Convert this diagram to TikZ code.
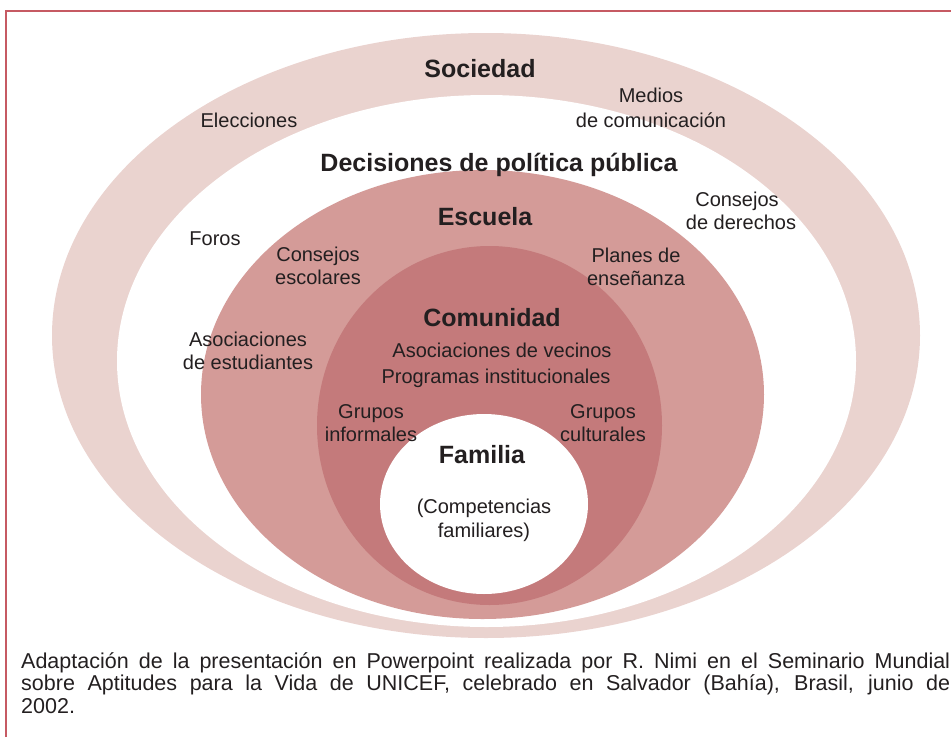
\documentclass[tikz,border=0pt]{standalone}
\usepackage{fontspec}
\setmainfont{Liberation Sans}
\definecolor{ringc}{HTML}{EAD3CF}
\definecolor{escuelac}{HTML}{D49B98}
\definecolor{comunidadc}{HTML}{C47A7B}
\definecolor{ink}{HTML}{231F20}
\definecolor{framec}{HTML}{C65A63}
\tikzset{
  lbl/.style={anchor=base, inner sep=0pt, text=ink, font=\fontsize{20}{24}\selectfont},
  head/.style={anchor=base, inner sep=0pt, text=ink, font=\fontsize{25}{30}\selectfont\bfseries},
  captionline/.style={anchor=base west, inner sep=0pt, text=ink, font=\fontsize{21.5}{24}\selectfont}
}
\begin{document}
\begin{tikzpicture}[x=1pt,y=-1pt]
\useasboundingbox (0,0) rectangle (951,737);
% frame
\draw[framec, line width=1.3pt] (6,737) -- (6,11) -- (951,11);
% ellipses
\fill[ringc] (486,335.5) ellipse [x radius=434pt, y radius=302.5pt];
\fill[white] (486.5,361) ellipse [x radius=369.5pt, y radius=266pt];
\fill[escuelac] (482.5,394.5) ellipse [x radius=281.5pt, y radius=224.5pt];
\fill[comunidadc] (489.5,425.5) ellipse [x radius=172.5pt, y radius=179.5pt];
\fill[white] (484,504) ellipse [x radius=104pt, y radius=90pt];
% Sociedad
\node[head] (sociedad) at (480,77) {Sociedad};
\node[lbl] (elecciones) at (249,127) {Elecciones};
\node[lbl] (medios1) at (651,102) {Medios};
\node[lbl] (medios2) at (651,127) {de comunicación};
\node[head] (decisiones) at (499,171) {Decisiones de política pública};
\node[lbl] (consejosd1) at (737,206) {Consejos};
\node[lbl] (consejosd2) at (741,229) {de derechos};
\node[lbl] (foros) at (215,245) {Foros};
% Escuela
\node[head] (escuela) at (485,225) {Escuela};
\node[lbl] (consejose1) at (318,261) {Consejos};
\node[lbl] (consejose2) at (318,284) {escolares};
\node[lbl] (planes1) at (636,262) {Planes de};
\node[lbl] (planes2) at (636,285) {enseñanza};
\node[lbl] (asoc1) at (248,346) {Asociaciones};
\node[lbl] (asoc2) at (248,369) {de estudiantes};
% Comunidad
\node[head] (comunidad) at (492,326) {Comunidad};
\node[lbl] (vecinos) at (502,357) {Asociaciones de vecinos};
\node[lbl] (programas) at (496,383) {Programas institucionales};
\node[lbl] (grupi1) at (371,418) {Grupos};
\node[lbl] (grupi2) at (371,441) {informales};
\node[lbl] (grupc1) at (603,418) {Grupos};
\node[lbl] (grupc2) at (603,441) {culturales};
% Familia
\node[head] (familia) at (482,463) {Familia};
\node[lbl] (comp1) at (484,513) {(Competencias};
\node[lbl] (comp2) at (484,537) {familiares)};
% caption
\node[captionline] (cap1) at (21,668) {\makebox[929pt][s]{Adaptación de la presentación en Powerpoint realizada por R. Nimi en el Seminario Mundial}};
\node[captionline] (cap2) at (21,690) {\makebox[929pt][s]{sobre Aptitudes para la Vida de UNICEF, celebrado en Salvador (Bahía), Brasil, junio de}};
\node[captionline] (cap3) at (21,713) {2002.};
\end{tikzpicture}
\end{document}
